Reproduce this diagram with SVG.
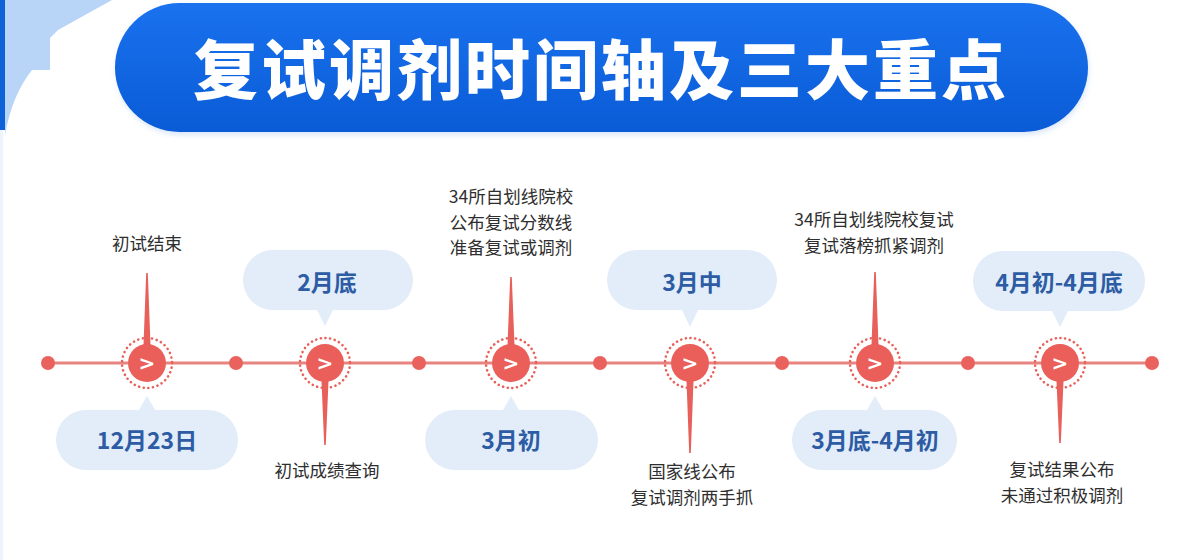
<svg xmlns="http://www.w3.org/2000/svg" width="1203" height="560" viewBox="0 0 1203 560">
<defs>
<linearGradient id="tg" x1="0" y1="0" x2="0" y2="1">
<stop offset="0" stop-color="#1a72ee"/>
<stop offset="1" stop-color="#0a5bd6"/>
</linearGradient>
<filter id="sh" x="-5%" y="-20%" width="110%" height="140%">
<feGaussianBlur stdDeviation="3"/>
</filter>
<g id="ring">
<circle r="25" fill="none" stroke="#e8625c" stroke-width="2.6" stroke-dasharray="0.1 4.6" stroke-linecap="round"/>
<circle r="19" fill="#ea5f59"/>
</g>
</defs>
<style>
.lbl{font-family:"Noto Sans CJK SC","Noto Sans",sans-serif;font-size:17.5px;fill:#2e2e2e;text-anchor:middle}
.bt{font-family:"Noto Sans CJK SC","Noto Sans",sans-serif;font-size:23px;font-weight:bold;fill:#2d5ca4;text-anchor:middle}
.bub{fill:#e2edf9}
.spk{fill:#e8605b}
.dot{fill:#e9625d}
.chev{font-family:"DejaVu Sans",sans-serif;font-size:20px;font-weight:bold;fill:#fff;text-anchor:middle}
</style>
<rect width="1203" height="560" fill="#ffffff"/>
<path d="M5 0 H112 L58 30 L50 38 V70 H32 Q12 95 5 135 Z" fill="#b8d4f6"/>
<rect x="0" y="0" width="5" height="130" fill="#0e62d8"/>
<rect x="0" y="130" width="3" height="430" fill="#eef4fb"/>
<g id="title">
<rect x="117" y="6" width="971" height="128" rx="64" fill="#7aa8e8" opacity="0.35" filter="url(#sh)"/>
<rect x="115" y="3" width="973" height="129" rx="64.5" fill="url(#tg)"/>
<text x="601" y="94" font-family="Noto Sans CJK SC,sans-serif" font-size="65" font-weight="900" fill="#ffffff" text-anchor="middle" letter-spacing="3">复试调剂时间轴及三大重点</text>
</g>
<g id="connectors">
<line x1="48" y1="363" x2="1152" y2="363" stroke="#e8847f" stroke-width="3"/>
<circle class="dot" cx="48" cy="363" r="7"/>
<circle class="dot" cx="236" cy="363" r="7"/>
<circle class="dot" cx="419" cy="363" r="7"/>
<circle class="dot" cx="600" cy="363" r="7"/>
<circle class="dot" cx="782" cy="363" r="7"/>
<circle class="dot" cx="968" cy="363" r="7"/>
<circle class="dot" cx="1152" cy="363" r="7"/>
</g>
<g id="node1">
<path class="bub" d="M86 410 H139 L147 396 L155 410 H208 A30 30 0 0 1 208 470 H86 A30 30 0 0 1 86 410 Z"/>
<text class="bt" x="147" y="449">12月23日</text>
<path class="spk" d="M146.2 273 L147.8 273 L150.5 345 L143.5 345 Z"/>
<use href="#ring" x="147" y="363"/>
<text class="chev" x="147" y="370">&gt;</text>
<text class="lbl" x="147" y="250">初试结束</text>
</g>
<g id="node2">
<path class="bub" d="M273 250 H383 A30 30 0 0 1 383 310 H333 L325 326 L317 310 H273 A30 30 0 0 1 273 250 Z"/>
<text class="bt" x="327" y="291">2月底</text>
<path class="spk" d="M321.5 381 L328.5 381 L325.8 445 L324.2 445 Z"/>
<use href="#ring" x="325" y="363"/>
<text class="chev" x="325" y="370">&gt;</text>
<text class="lbl" x="327" y="477">初试成绩查询</text>
</g>
<g id="node3">
<path class="bub" d="M455 410 H503 L511 396 L519 410 H568 A30 30 0 0 1 568 470 H455 A30 30 0 0 1 455 410 Z"/>
<text class="bt" x="511" y="449">3月初</text>
<path class="spk" d="M510.2 277 L511.8 277 L514.5 345 L507.5 345 Z"/>
<use href="#ring" x="511" y="363"/>
<text class="chev" x="511" y="370">&gt;</text>
<text class="lbl" x="511" y="203">34所自划线院校</text>
<text class="lbl" x="511" y="228.5">公布复试分数线</text>
<text class="lbl" x="511" y="254">准备复试或调剂</text>
</g>
<g id="node4">
<path class="bub" d="M637 250 H747 A30 30 0 0 1 747 310 H698 L690 327 L682 310 H637 A30 30 0 0 1 637 250 Z"/>
<text class="bt" x="692" y="291">3月中</text>
<path class="spk" d="M686.5 381 L693.5 381 L690.8 453 L689.2 453 Z"/>
<use href="#ring" x="690" y="363"/>
<text class="chev" x="690" y="370">&gt;</text>
<text class="lbl" x="692" y="478">国家线公布</text>
<text class="lbl" x="692" y="503.5">复试调剂两手抓</text>
</g>
<g id="node5">
<path class="bub" d="M822 410 H867 L875 396 L883 410 H927 A30 30 0 0 1 927 470 H822 A30 30 0 0 1 822 410 Z"/>
<text class="bt" x="875" y="449">3月底-4月初</text>
<path class="spk" d="M874.2 272 L875.8 272 L878.5 345 L871.5 345 Z"/>
<use href="#ring" x="875" y="363"/>
<text class="chev" x="875" y="370">&gt;</text>
<text class="lbl" x="874" y="226">34所自划线院校复试</text>
<text class="lbl" x="874" y="251.5">复试落榜抓紧调剂</text>
</g>
<g id="node6">
<path class="bub" d="M1003 251 H1115 A30 30 0 0 1 1115 311 H1068 L1060 327 L1052 311 H1003 A30 30 0 0 1 1003 251 Z"/>
<text class="bt" x="1059" y="291">4月初-4月底</text>
<path class="spk" d="M1056.5 381 L1063.5 381 L1060.8 443 L1059.2 443 Z"/>
<use href="#ring" x="1060" y="363"/>
<text class="chev" x="1060" y="370">&gt;</text>
<text class="lbl" x="1062" y="476">复试结果公布</text>
<text class="lbl" x="1062" y="501.5">未通过积极调剂</text>
</g>
</svg>
